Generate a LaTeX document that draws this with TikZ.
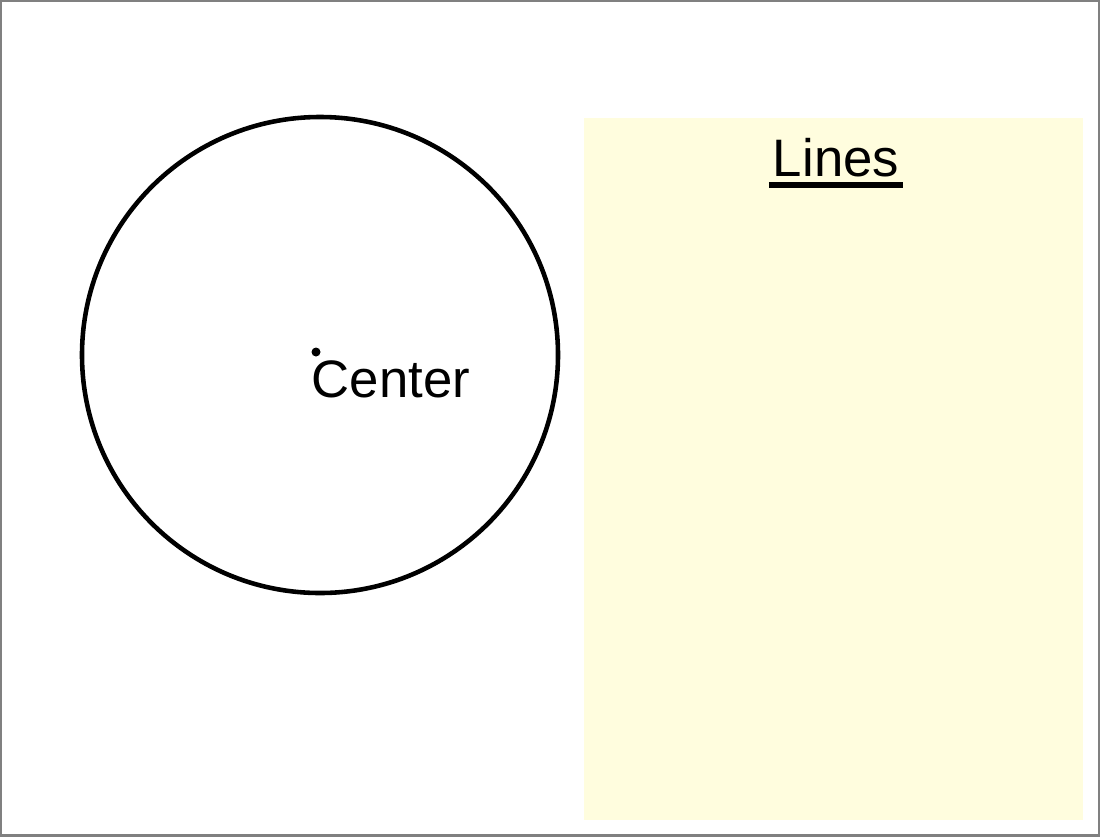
\documentclass[tikz,border=0pt]{standalone}
\usepackage{fontspec}
\setmainfont{Liberation Sans}
\definecolor{notepad}{RGB}{255,253,222}
\begin{document}
\begin{tikzpicture}
	  \useasboundingbox (0,0) rectangle (11,8.36);
	  \draw[gray, line width=0.6pt] (0.005,0.005) rectangle (10.995,8.355);
	  
	  \fill[notepad] (5.84,0.16) rectangle (10.83,7.18);
	  \node[font=\fontsize{15}{18}\selectfont, inner sep=1pt] (lines) at (8.36,6.78) {Lines\ };
	  \draw[line width=1.6pt] ([yshift=-1pt]lines.south west) -- ([yshift=-1pt]lines.south east);
	  
	  \draw[line width=1.3pt] (3.20,4.81) circle (2.38);
	  \fill (3.16,4.84) circle (0.045);
	  \node[font=\fontsize{15}{18}\selectfont, anchor=west, inner sep=0pt] (ctr) at (3.11,4.57) {Center};
	\end{tikzpicture}
\end{document}
